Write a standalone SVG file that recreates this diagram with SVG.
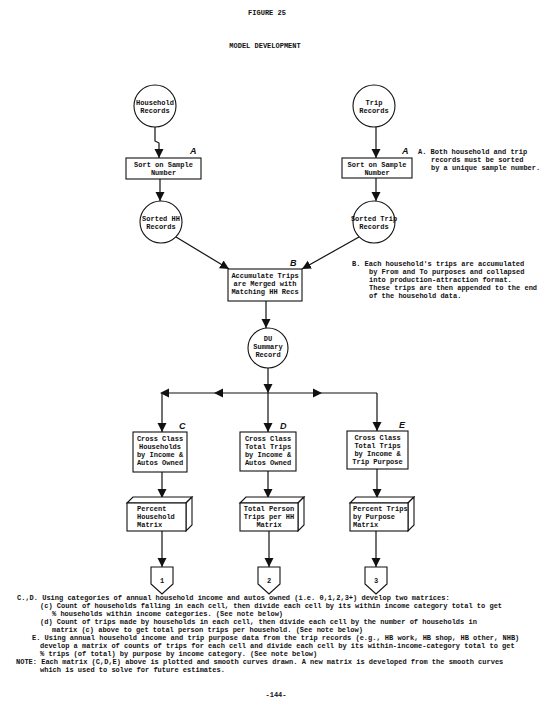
<svg xmlns="http://www.w3.org/2000/svg" width="550" height="709" viewBox="0 0 550 709">
<style>
.t{font-family:"Liberation Mono","DejaVu Sans Mono",monospace;font-size:7px;font-weight:bold;fill:#111}
.c{text-anchor:middle}
.lbl{font-family:"Liberation Sans",Arial,sans-serif;font-size:9px;font-weight:bold;font-style:italic;fill:#111}
.s{fill:#fff;stroke:#111;stroke-width:1.1}
.ln{fill:none;stroke:#111;stroke-width:1.2}
.ah{fill:#111}
</style>
<defs>
<marker id="arr" markerUnits="userSpaceOnUse" markerWidth="10" markerHeight="10" refX="9" refY="4.5" orient="auto">
<path d="M0,0 L9,4.5 L0,9 Z" fill="#111"/>
</marker>
</defs>
<rect width="550" height="709" fill="#fff"/>
<text class="t c" x="267" y="15">FIGURE 25</text>
<text class="t c" x="265" y="48">MODEL DEVELOPMENT</text>

<g id="connectors">
<path class="ln" d="M155,127 V141 L159,143 V158" marker-end="url(#arr)"/>
<path class="ln" d="M160,179 V201" marker-end="url(#arr)"/>
<path class="ln" d="M376,127 V158" marker-end="url(#arr)"/>
<path class="ln" d="M376,178 V201" marker-end="url(#arr)"/>
<path class="ln" d="M176,237 L229,269" marker-end="url(#arr)"/>
<path class="ln" d="M359,237 L302,269" marker-end="url(#arr)"/>
<path class="ln" d="M266,301 V328" marker-end="url(#arr)"/>
<path class="ln" d="M268,368 V393" marker-end="url(#arr)"/>
<path class="ln" d="M162,393 H377"/>
<polygon class="ah" points="160,393 169,388.5 169,397.5"/>
<polygon class="ah" points="214,393 223,388.5 223,397.5"/>
<polygon class="ah" points="322,393 313,388.5 313,397.5"/>
<path class="ln" d="M162,393 V432" marker-end="url(#arr)"/>
<path class="ln" d="M268,393 V432" marker-end="url(#arr)"/>
<path class="ln" d="M377,393 V431" marker-end="url(#arr)"/>
<path class="ln" d="M162,472 V498" marker-end="url(#arr)"/>
<path class="ln" d="M268,471 V498" marker-end="url(#arr)"/>
<path class="ln" d="M377,469 V498" marker-end="url(#arr)"/>
<path class="ln" d="M162,531 V567" marker-end="url(#arr)"/>
<path class="ln" d="M269,531 V567" marker-end="url(#arr)"/>
<path class="ln" d="M376,531 V567" marker-end="url(#arr)"/>
</g>

<g id="household-records">
<circle class="s" cx="155" cy="106" r="21"/>
<text class="t c" x="155" y="105">Household</text>
<text class="t c" x="155" y="113">Records</text>
</g>
<g id="trip-records">
<circle class="s" cx="374" cy="106" r="21"/>
<text class="t c" x="374" y="105">Trip</text>
<text class="t c" x="374" y="113">Records</text>
</g>
<g id="sort-hh">
<rect class="s" x="126" y="158" width="75" height="21"/>
<text class="t c" x="163.5" y="167">Sort on Sample</text>
<text class="t c" x="163.5" y="175">Number</text>
<text class="lbl" x="190" y="154">A</text>
</g>
<g id="sort-trip">
<rect class="s" x="342" y="158" width="70" height="20"/>
<text class="t c" x="377" y="167">Sort on Sample</text>
<text class="t c" x="377" y="175">Number</text>
<text class="lbl" x="402" y="154">A</text>
</g>
<g id="note-a">
<text class="t" x="418" y="154">A. Both household and trip</text>
<text class="t" x="431" y="162">records must be sorted</text>
<text class="t" x="431" y="170">by a unique sample number.</text>
</g>
<g id="sorted-hh">
<circle class="s" cx="161" cy="222" r="21"/>
<text class="t c" x="161" y="221">Sorted HH</text>
<text class="t c" x="161" y="229">Records</text>
</g>
<g id="sorted-trip">
<circle class="s" cx="374" cy="222" r="21"/>
<text class="t c" x="374" y="221">Sorted Trip</text>
<text class="t c" x="374" y="229">Records</text>
</g>
<g id="accumulate">
<rect class="s" x="228" y="269" width="74" height="32"/>
<text class="t c" x="265" y="278">Accumulate Trips</text>
<text class="t c" x="265" y="286">are Merged with</text>
<text class="t c" x="265" y="294">Matching HH Recs</text>
<text class="lbl" x="290" y="266">B</text>
</g>
<g id="note-b">
<text class="t" x="352" y="266">B.  Each household's trips are accumulated</text>
<text class="t" x="369" y="274">by From and To purposes and collapsed</text>
<text class="t" x="369" y="282">into production-attraction format.</text>
<text class="t" x="369" y="290">These trips are then appended to the end</text>
<text class="t" x="369" y="298">of the household data.</text>
</g>
<g id="du-summary">
<circle class="s" cx="268" cy="348" r="20"/>
<text class="t c" x="268" y="341">DU</text>
<text class="t c" x="268" y="349">Summary</text>
<text class="t c" x="268" y="357">Record</text>
</g>
<g id="cross-c">
<rect class="s" x="133" y="432" width="54" height="40"/>
<text class="t c" x="160" y="441">Cross Class</text>
<text class="t c" x="160" y="449">Households</text>
<text class="t c" x="160" y="457">by Income &amp;</text>
<text class="t c" x="160" y="465">Autos Owned</text>
<text class="lbl" x="179" y="429">C</text>
</g>
<g id="cross-d">
<rect class="s" x="240" y="432" width="56" height="39"/>
<text class="t c" x="268" y="441">Cross Class</text>
<text class="t c" x="268" y="449">Total Trips</text>
<text class="t c" x="268" y="457">by Income &amp;</text>
<text class="t c" x="268" y="465">Autos Owned</text>
<text class="lbl" x="280" y="429">D</text>
</g>
<g id="cross-e">
<rect class="s" x="347" y="431" width="61" height="38"/>
<text class="t c" x="377.5" y="440">Cross Class</text>
<text class="t c" x="377.5" y="448">Total Trips</text>
<text class="t c" x="377.5" y="456">by Income &amp;</text>
<text class="t c" x="377.5" y="464">Trip Purpose</text>
<text class="lbl" x="399" y="428">E</text>
</g>
<g id="matrix-1">
<polygon class="s" points="127,503 133,497 192,497 186,503"/>
<polygon class="s" points="186,503 192,497 192,525 186,531"/>
<rect class="s" x="127" y="503" width="59" height="28"/>
<text class="t" x="137" y="511">Percent</text>
<text class="t" x="137" y="519">Household</text>
<text class="t" x="137" y="527">Matrix</text>
</g>
<g id="matrix-2">
<polygon class="s" points="240,503 246,497 304,497 298,503"/>
<polygon class="s" points="298,503 304,497 304,525 298,531"/>
<rect class="s" x="240" y="503" width="58" height="28"/>
<text class="t c" x="269" y="511">Total Person</text>
<text class="t c" x="269" y="519">Trips per HH</text>
<text class="t c" x="269" y="527">Matrix</text>
</g>
<g id="matrix-3">
<polygon class="s" points="350,503 356,497 414,497 408,503"/>
<polygon class="s" points="408,503 414,497 414,525 408,531"/>
<rect class="s" x="350" y="503" width="58" height="28"/>
<text class="t" x="353" y="511">Percent Trips</text>
<text class="t" x="353" y="519">by Purpose</text>
<text class="t" x="353" y="527">Matrix</text>
</g>
<g id="conn-1">
<polygon class="s" points="151,567 173,567 173,584 162,594 151,584"/>
<text class="t c" x="162" y="583">1</text>
</g>
<g id="conn-2">
<polygon class="s" points="258,567 280,567 280,584 269,594 258,584"/>
<text class="t c" x="269" y="583">2</text>
</g>
<g id="conn-3">
<polygon class="s" points="365,567 387,567 387,584 376,594 365,584"/>
<text class="t c" x="376" y="583">3</text>
</g>
<g id="notes">
<text class="t" x="17" y="600">C.,D. Using categories of annual household income and autos owned (i.e. 0,1,2,3+) develop two matrices:</text>
<text class="t" x="40" y="608">(c) Count of households falling in each cell, then divide each cell by its within income category total to get</text>
<text class="t" x="52" y="615.5">% households within income categories.  (See note below)</text>
<text class="t" x="40" y="624">(d) Count of trips made by households in each cell, then divide each cell by the number of households in</text>
<text class="t" x="52" y="631.5">matrix (c) above to get total person trips per household.  (See note below)</text>
<text class="t" x="32" y="640">E. Using annual household income and trip purpose data from the trip records (e.g., HB work, HB shop, HB other, NHB)</text>
<text class="t" x="40" y="648">develop a matrix of counts of trips for each cell and divide each cell by its within-income-category total to get</text>
<text class="t" x="40" y="655.5">% trips (of total) by purpose by income category.  (See note below)</text>
<text class="t" x="16" y="664">NOTE: Each matrix (C,D,E) above is plotted and smooth curves drawn.  A new matrix is developed from the smooth curves</text>
<text class="t" x="40" y="671.5">which is used to solve for future estimates.</text>
<text class="t c" x="276" y="697">-144-</text>
</g>
</svg>
